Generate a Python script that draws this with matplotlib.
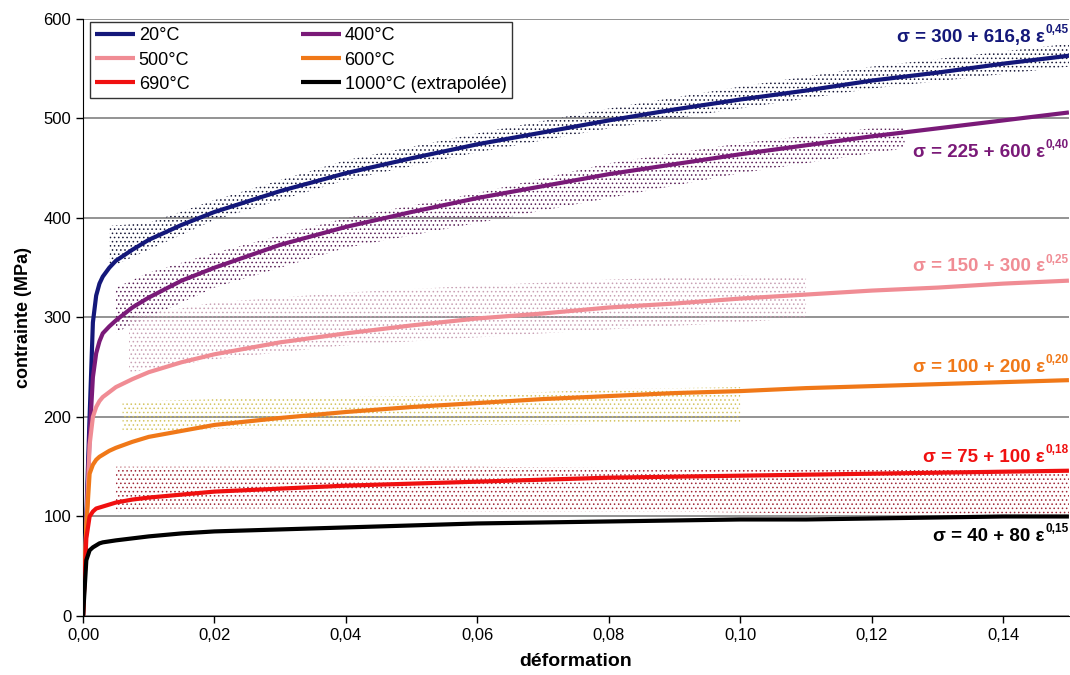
import matplotlib
matplotlib.use("Agg")
import matplotlib.pyplot as plt
import matplotlib.transforms as mtransforms
from matplotlib.ticker import FuncFormatter

plt.rcParams['font.family'] = ['Liberation Sans', 'DejaVu Sans']
plt.rcParams['hatch.linewidth'] = 0.6

# déformation
eps = [0.0, 0.0005, 0.001, 0.0015, 0.002, 0.0025, 0.003, 0.004, 0.005, 0.0075, 0.01, 0.015, 0.02,
       0.03, 0.04, 0.05, 0.06, 0.07, 0.08, 0.09, 0.10, 0.11, 0.12, 0.13, 0.14, 0.15]

# contrainte (MPa) pour chaque température
s20 = [0, 100, 200, 295, 322, 334, 341, 350, 357, 368, 378, 393, 406,
       427, 445, 460, 474, 486, 498, 509, 519, 528, 538, 546, 555, 563]
s400 = [0, 90, 180, 240, 264, 276, 284, 291, 297, 310, 320, 337, 350,
        373, 391, 406, 420, 432, 444, 454, 464, 473, 482, 490, 498, 506]
s500 = [0, 90, 172, 200, 210, 216, 220, 225, 230, 238, 245, 255, 263,
        275, 284, 292, 299, 304, 310, 314, 319, 323, 327, 330, 334, 337]
s600 = [0, 90, 143, 152, 157, 160, 162, 166, 169, 175, 180, 186, 192,
        199, 205, 210, 214, 218, 221, 224, 226, 229, 231, 233, 235, 237]
s690 = [0, 78, 100, 105, 108, 109, 110, 112, 114, 117, 119, 122, 125,
        128, 131, 133, 135, 137, 139, 140, 141, 142, 143, 144, 145, 146]
s1000 = [0, 56, 66, 69, 71, 73, 74, 75, 76, 78, 80, 83, 85,
         87, 89, 91, 93, 94, 95, 96, 97, 97, 98, 99, 100, 100]

# nuages de points de mesure (enveloppes lues)
e_n20 = [0.004, 0.01, 0.02, 0.04, 0.06, 0.08, 0.10, 0.12, 0.15]
lo_n20 = [350, 368, 398, 438, 466, 490, 510, 530, 552]
hi_n20 = [392, 395, 418, 458, 485, 510, 532, 552, 575]

e_n400 = [0.005, 0.01, 0.02, 0.04, 0.06, 0.08, 0.10, 0.12, 0.125]
lo_n400 = [285, 300, 330, 370, 395, 420, 445, 465, 470]
hi_n400 = [330, 345, 365, 400, 425, 455, 475, 490, 490]

e_n500 = [0.007, 0.02, 0.04, 0.06, 0.08, 0.10, 0.11]
lo_n500 = [245, 258, 272, 280, 288, 295, 300]
hi_n500 = [300, 315, 325, 332, 338, 342, 340]

e_n600 = [0.006, 0.02, 0.04, 0.06, 0.08, 0.10]
lo_n600 = [185, 188, 190, 192, 193, 195]
hi_n600 = [215, 218, 220, 222, 228, 230]

e_n690 = [0.005, 0.01, 0.03, 0.06, 0.09, 0.11, 0.13, 0.15]
lo_n690 = [105, 108, 108, 105, 105, 103, 103, 102]
hi_n690 = [150, 150, 150, 150, 148, 148, 148, 148]

labels = ["20°C", "400°C", "500°C", "600°C", "690°C", "1000°C (extrapolée)"]
colors = ["#14187a", "#7a1a78", "#f08c94", "#f07818", "#f01010", "#000000"]

fig = plt.figure(figsize=(10.7, 6.75), dpi=100)
ax = fig.add_axes([0.0776, 0.0874, 0.9214, 0.8846])

# nuages
nuages = [(e_n20, lo_n20, hi_n20, "#1a1a3a"),
          (e_n400, lo_n400, hi_n400, "#5a2058"),
          (e_n500, lo_n500, hi_n500, "#c8a0b4"),
          (e_n600, lo_n600, hi_n600, "#d4c460"),
          (e_n690, lo_n690, hi_n690, "#a02838")]
for e, lo, hi, c in nuages:
    ax.fill_between(e, lo, hi, facecolor="none", edgecolor=c, linewidth=0,
                    hatch="....", zorder=1)

# courbes
handles = []
for s, lab, c in zip([s20, s400, s500, s600, s690, s1000], labels, colors):
    h, = ax.plot(eps, s, color=c, lw=3, label=lab, zorder=3, solid_capstyle="butt",
                 solid_joinstyle="round")
    handles.append(h)

ax.set_xlim(0, 0.15)
ax.set_ylim(0, 600)
ax.set_xticks([0, 0.02, 0.04, 0.06, 0.08, 0.10, 0.12, 0.14])
ax.set_yticks(range(0, 601, 100))
ax.xaxis.set_major_formatter(FuncFormatter(lambda v, p: f"{v:.2f}".replace(".", ",")))
ax.tick_params(labelsize=12, direction="out", length=5, width=1, colors="black")
ax.grid(axis="y", color="#808080", lw=1.2, zorder=0)
ax.set_axisbelow(True)
ax.spines["top"].set_visible(False)
ax.spines["right"].set_visible(False)
ax.set_xlabel("déformation", fontsize=14, fontweight="bold", labelpad=7)
ax.set_ylabel("contrainte (MPa)", fontsize=13, fontweight="bold", labelpad=8)

# légende (remplissage par colonne)
order = [0, 2, 4, 1, 3, 5]
leg = ax.legend([handles[i] for i in order], [labels[i] for i in order],
                ncol=2, loc="upper left", bbox_to_anchor=(0.007, 0.995),
                fontsize=13, frameon=True, fancybox=False, edgecolor="black",
                handlelength=2.2, handletextpad=0.2, columnspacing=6.2,
                labelspacing=0.4, borderpad=0.3, borderaxespad=0)
leg.get_frame().set_linewidth(1)

# équations
eq_main = ["σ = 300 + 616,8 ε", "σ = 225 + 600 ε", "σ = 150 + 300 ε",
           "σ = 100 + 200 ε", "σ = 75 + 100 ε", "σ = 40 + 80 ε"]
eq_exp = ["0,45", "0,40", "0,25", "0,20", "0,18", "0,15"]
eq_y = [583, 467, 352, 251, 161, 81]
trans = mtransforms.blended_transform_factory(ax.transAxes, ax.transData)
for m, ex, y, c in zip(eq_main, eq_exp, eq_y, colors):
    t = ax.text(1.0, y, ex, transform=trans, ha="right", va="bottom",
                fontsize=8.5, fontweight="bold", color=c, zorder=5)
    ax.annotate(m, xy=(0, 0), xycoords=t, xytext=(-0.5, -7),
                textcoords="offset points", ha="right", va="bottom",
                fontsize=13.5, fontweight="bold", color=c, zorder=5)

fig.savefig("out.png", dpi=100)
